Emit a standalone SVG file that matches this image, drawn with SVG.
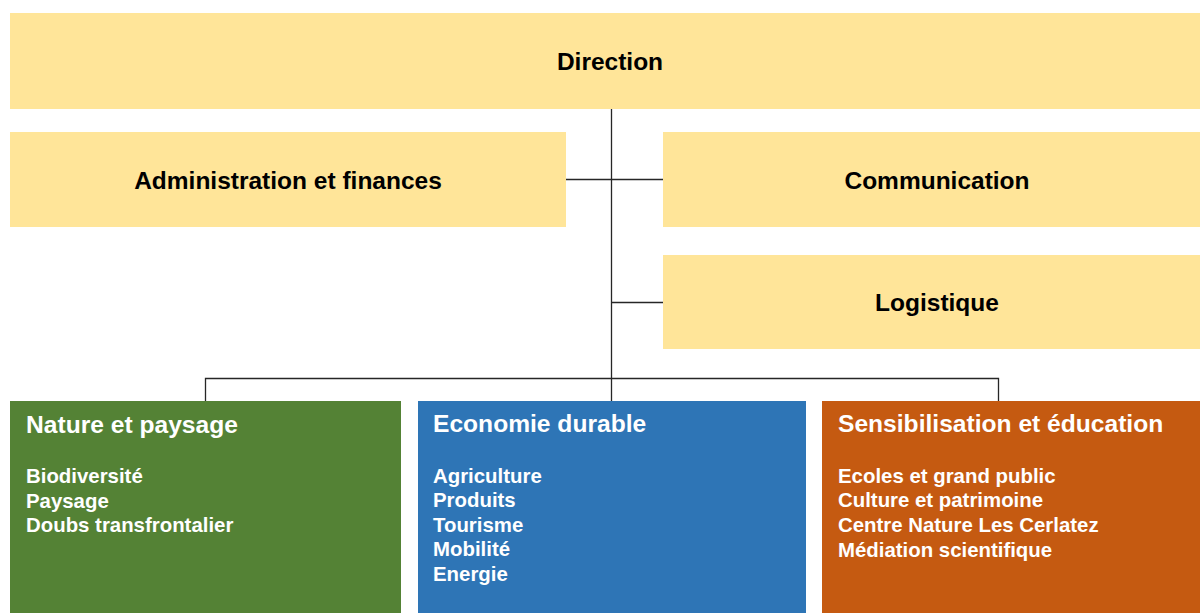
<svg xmlns="http://www.w3.org/2000/svg" width="1200" height="613" viewBox="0 0 1200 613">
  <style>
    .box { fill: #FFE599; }
    .lbl { font-family: "Liberation Sans", Arial, sans-serif; font-weight: bold; font-size: 24.5px; fill: #000; text-anchor: middle; }
    .head { font-family: "Liberation Sans", Arial, sans-serif; font-weight: bold; font-size: 24.6px; fill: #fff; }
    .item { font-family: "Liberation Sans", Arial, sans-serif; font-weight: bold; font-size: 20.4px; fill: #fff; }
    .wire { stroke: #262626; stroke-width: 1.3; fill: none; }
  </style>

  <!-- connectors -->
  <g id="connectors">
    <line class="wire" x1="611.5" y1="108" x2="611.5" y2="401"/>
    <line class="wire" x1="566" y1="179.5" x2="663" y2="179.5"/>
    <line class="wire" x1="611.5" y1="302.5" x2="663" y2="302.5"/>
    <polyline class="wire" points="205.5,401 205.5,378.5 998.5,378.5 998.5,401"/>
  </g>

  <g id="direction">
    <rect class="box" x="10" y="13" width="1190" height="96"/>
    <text class="lbl" x="610" y="70">Direction</text>
  </g>

  <g id="administration">
    <rect class="box" x="10" y="132" width="556" height="95"/>
    <text class="lbl" x="288" y="189">Administration et finances</text>
  </g>

  <g id="communication">
    <rect class="box" x="663" y="132" width="537" height="95"/>
    <text class="lbl" x="937" y="189">Communication</text>
  </g>

  <g id="logistique">
    <rect class="box" x="663" y="255" width="537" height="94"/>
    <text class="lbl" x="937" y="311">Logistique</text>
  </g>

  <g id="nature">
    <rect x="10" y="401" width="391" height="212" fill="#548235"/>
    <text class="head" x="26" y="433">Nature et paysage</text>
    <text class="item" x="26" y="483">Biodiversité</text>
    <text class="item" x="26" y="508">Paysage</text>
    <text class="item" x="26" y="532">Doubs transfrontalier</text>
  </g>

  <g id="economie">
    <rect x="418" y="401" width="388" height="212" fill="#2E75B6"/>
    <text class="head" x="433" y="432">Economie durable</text>
    <text class="item" x="433" y="483">Agriculture</text>
    <text class="item" x="433" y="507">Produits</text>
    <text class="item" x="433" y="532">Tourisme</text>
    <text class="item" x="433" y="556">Mobilité</text>
    <text class="item" x="433" y="581">Energie</text>
  </g>

  <g id="sensibilisation">
    <rect x="822" y="401" width="378" height="212" fill="#C55A11"/>
    <text class="head" x="838" y="432">Sensibilisation et éducation</text>
    <text class="item" x="838" y="483">Ecoles et grand public</text>
    <text class="item" x="838" y="507">Culture et patrimoine</text>
    <text class="item" x="838" y="532">Centre Nature Les Cerlatez</text>
    <text class="item" x="838" y="557">Médiation scientifique</text>
  </g>
</svg>
